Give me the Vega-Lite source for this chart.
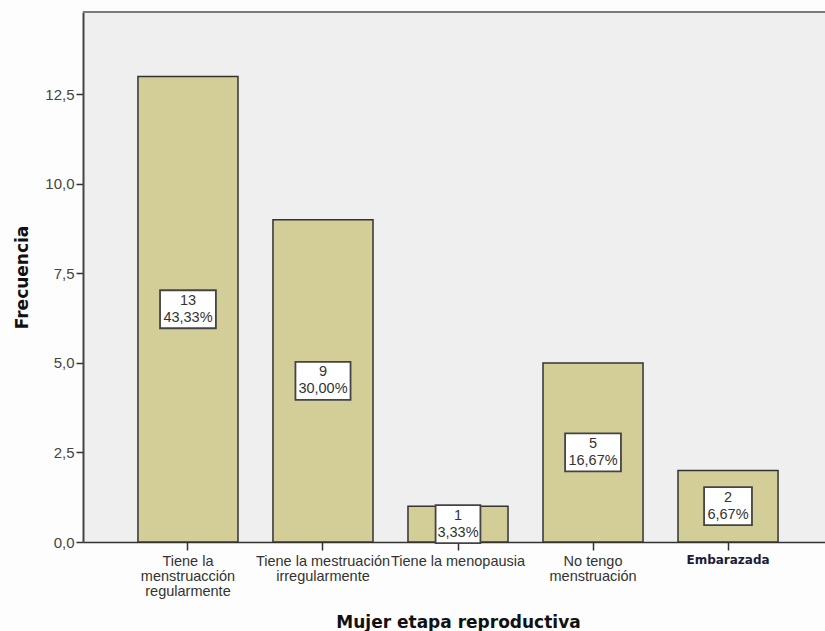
{
  "$schema": "https://vega.github.io/schema/vega-lite/v6.json",
  "width": 742,
  "height": 530,
  "autosize": "none",
  "padding": {"left": 83, "top": 12, "right": 0, "bottom": 89},
  "background": "#fdfdfd",
  "config": {
    "view": {"stroke": null, "fill": "#efefef"},
    "font": "Liberation Sans"
  },
  "data": {
    "values": [
      {"etapa": "Tiene la\nmenstruacción\nregularmente", "frecuencia": 13, "porcentaje": "43,33%"},
      {"etapa": "Tiene la mestruación\nirregularmente", "frecuencia": 9, "porcentaje": "30,00%"},
      {"etapa": "Tiene la menopausia", "frecuencia": 1, "porcentaje": "3,33%"},
      {"etapa": "No tengo\nmenstruación", "frecuencia": 5, "porcentaje": "16,67%"},
      {"etapa": "Embarazada", "frecuencia": 2, "porcentaje": "6,67%"}
    ]
  },
  "transform": [
    {"calculate": "datum.frecuencia / 2", "as": "centro"}
  ],
  "layer": [
    {
      "mark": {"type": "bar", "fill": "#d3ce97", "stroke": "#333333", "strokeWidth": 1.5},
      "encoding": {
        "x": {
          "field": "etapa",
          "type": "nominal",
          "sort": null,
          "scale": {"range": [0, 750], "paddingInner": 0.259, "paddingOuter": 0.407},
          "axis": {
            "title": "Mujer etapa reproductiva",
            "titleFont": "DejaVu Sans",
            "titleFontSize": 17,
            "titleFontWeight": "bold",
            "titleColor": "#111111",
            "titleX": 375,
            "titleY": 85,
            "titleBaseline": "alphabetic",
            "titleAlign": "center",
            "labelAngle": 0,
            "labelExpr": "split(datum.label, '\\n')",
            "labelFont": {"condition": {"test": "datum.label == 'Embarazada'", "value": "DejaVu Sans"}, "value": "Liberation Sans"},
            "labelFontWeight": {"condition": {"test": "datum.label == 'Embarazada'", "value": "bold"}, "value": "normal"},
            "labelFontSize": {"condition": {"test": "datum.label == 'Embarazada'", "value": 12}, "value": 14.5},
            "labelColor": {"condition": {"test": "datum.label == 'Embarazada'", "value": "#1c1c3a"}, "value": "#333333"},
            "labelLineHeight": 15,
            "labelPadding": 4,
            "labelLimit": 200,
            "domainColor": "#333333",
            "domainWidth": 1.5,
            "tickColor": "#333333",
            "tickWidth": 1.5,
            "tickSize": 8
          }
        },
        "y": {
          "field": "frecuencia",
          "type": "quantitative",
          "scale": {"domain": [0, 14.8], "nice": false},
          "axis": {
            "title": "Frecuencia",
            "titleFont": "DejaVu Sans",
            "titleFontSize": 17,
            "titleFontWeight": "bold",
            "titleColor": "#111111",
            "titleX": -61,
            "titleY": 265,
            "titleAngle": -90,
            "titleAlign": "center",
            "titleBaseline": "middle",
            "values": [0, 2.5, 5, 7.5, 10, 12.5],
            "labelExpr": "replace(format(datum.value, '.1f'), '.', ',')",
            "labelFontSize": 15,
            "labelColor": "#444444",
            "labelPadding": 2,
            "grid": false,
            "domainColor": "#444444",
            "domainWidth": 2,
            "tickColor": "#333333",
            "tickWidth": 1.5,
            "tickSize": 7
          }
        }
      }
    },
    {
      "mark": {"type": "rule", "color": "#7a7a7a", "strokeWidth": 2},
      "encoding": {"y": {"datum": 14.8}}
    },
    {
      "mark": {"type": "point", "filled": true, "fill": "white", "stroke": "#444444", "strokeWidth": 1.8, "opacity": 1, "size": 1444},
      "encoding": {
        "x": {"field": "etapa", "type": "nominal", "sort": null},
        "y": {"field": "centro", "type": "quantitative"},
        "shape": {
          "field": "etapa",
          "type": "nominal",
          "legend": null,
          "scale": {
            "domain": [
              "Tiene la\nmenstruacción\nregularmente",
              "Tiene la mestruación\nirregularmente",
              "Tiene la menopausia",
              "No tengo\nmenstruación",
              "Embarazada"
            ],
            "range": [
              "M-1.47,-1H1.47V1H-1.47Z",
              "M-1.45,-1H1.45V1H-1.45Z",
              "M-1.18,-1H1.18V1H-1.18Z",
              "M-1.47,-1H1.47V1H-1.47Z",
              "M-1.26,-1H1.26V1H-1.26Z"
            ]
          }
        }
      }
    },
    {
      "mark": {"type": "text", "fontSize": 14.5, "color": "#333333", "dy": -8.5},
      "encoding": {
        "x": {"field": "etapa", "type": "nominal", "sort": null},
        "y": {"field": "centro", "type": "quantitative"},
        "text": {"field": "frecuencia", "type": "quantitative"}
      }
    },
    {
      "mark": {"type": "text", "fontSize": 14.5, "color": "#333333", "dy": 8.5},
      "encoding": {
        "x": {"field": "etapa", "type": "nominal", "sort": null},
        "y": {"field": "centro", "type": "quantitative"},
        "text": {"field": "porcentaje", "type": "nominal"}
      }
    }
  ]
}
